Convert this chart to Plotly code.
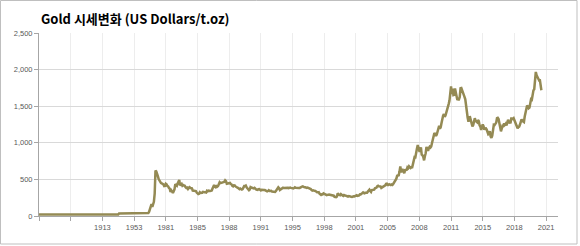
import plotly.graph_objects as go

# ---------------- data ----------------
# Annual prices 1833-1979 (USD/t.oz)
gold_annual_1833_1979 = [
    18.93, 20.67, 20.67, 20.67, 20.67, 20.67, 20.67, 20.67, 20.67, 20.67,  # 1833-1842
    20.67, 20.67, 20.67, 20.67, 20.67, 20.67, 20.67, 20.67, 20.67, 20.67,  # 1843-1852
    20.67, 20.67, 20.67, 20.67, 20.67, 20.67, 20.67, 20.67, 20.67, 20.67,  # 1853-1862
    20.67, 20.67, 20.67, 20.67, 20.67, 20.67, 20.67, 20.67, 20.67, 20.67,  # 1863-1872
    20.67, 20.67, 20.67, 20.67, 20.67, 20.67, 20.67, 20.67, 20.67, 20.67,  # 1873-1882
    20.67, 20.67, 20.67, 20.67, 20.67, 20.67, 20.67, 20.67, 20.67, 20.67,  # 1883-1892
    20.67, 20.67, 20.67, 20.67, 20.67, 20.67, 20.67, 20.67, 20.67, 20.67,  # 1893-1902
    20.67, 20.67, 20.67, 20.67, 20.67, 20.67, 20.67, 20.67, 20.67, 20.67,  # 1903-1912
    20.67, 20.67, 20.67, 20.67, 20.67, 20.67, 20.67, 20.67, 20.67, 20.67,  # 1913-1922
    20.67, 20.67, 20.67, 20.67, 20.67, 20.67, 20.67, 20.67, 20.67, 20.67,  # 1923-1932
    20.67, 34.69, 35.00, 35.00, 35.00, 35.00, 35.00, 35.00, 35.00, 35.00,  # 1933-1942
    35.00, 35.00, 35.00, 35.00, 35.00, 35.00, 35.00, 35.00, 35.00, 35.00,  # 1943-1952
    35.00, 35.00, 35.00, 35.00, 35.00, 35.00, 35.00, 35.00, 35.00, 35.00,  # 1953-1962
    35.00, 35.00, 35.00, 35.00, 35.00, 39.31, 41.28, 36.02, 40.62, 58.42,  # 1963-1972
    97.39, 154.0, 160.9, 124.7, 147.8, 193.4, 306.0,                        # 1973-1979
]

# Monthly prices Aug 1980 - Dec 1989
gold_monthly_1980s = [
    622, 610, 585, 545, 505,                                         # 1980 Aug-Dec
    480, 462, 450, 445, 440, 432, 410, 412, 440, 432, 410, 405,      # 1981
    384, 374, 330, 350, 334, 315, 339, 364, 435, 422, 414, 444,      # 1982
    481, 491, 419, 432, 438, 413, 422, 416, 412, 394, 382, 388,      # 1983
    370, 386, 394, 381, 377, 378, 348, 348, 341, 341, 341, 320,      # 1984
    303, 299, 304, 325, 316, 317, 317, 330, 323, 326, 325, 322,      # 1985
    345, 339, 346, 340, 342, 343, 348, 376, 418, 423, 398, 391,      # 1986
    408, 401, 409, 438, 461, 450, 451, 461, 460, 466, 467, 487,      # 1987
    477, 442, 443, 452, 451, 452, 437, 432, 413, 406, 420, 419,      # 1988
    404, 388, 390, 384, 371, 367, 375, 366, 362, 367, 392, 409,      # 1989
]
gold_monthly_1990s = [
    410, 417, 393, 374, 369, 352, 362, 395, 389, 381, 381, 378,      # 1990
    384, 364, 363, 358, 357, 367, 368, 357, 349, 358, 360, 361,      # 1991
    354, 354, 345, 338, 337, 341, 352, 343, 345, 344, 335, 334,      # 1992
    329, 329, 330, 342, 367, 372, 392, 379, 355, 364, 374, 383,      # 1993
    387, 382, 384, 377, 381, 386, 385, 380, 391, 389, 384, 379,      # 1994
    379, 376, 382, 391, 385, 387, 386, 383, 383, 383, 386, 387,      # 1995
    400, 405, 396, 393, 392, 385, 383, 387, 383, 381, 378, 369,      # 1996
    355, 347, 352, 344, 344, 341, 324, 324, 323, 325, 306, 289,      # 1997
    289, 297, 296, 308, 299, 292, 293, 284, 289, 296, 294, 291,      # 1998
    287, 288, 286, 282, 277, 262, 256, 257, 265, 311, 294, 283,      # 1999
]
gold_monthly_2000s = [
    284, 300, 286, 280, 275, 286, 282, 275, 274, 270, 266, 272,      # 2000
    265, 262, 263, 261, 272, 270, 268, 273, 283, 283, 276, 276,      # 2001
    282, 296, 294, 303, 314, 322, 314, 310, 319, 317, 319, 333,      # 2002
    357, 359, 340, 328, 355, 356, 351, 360, 379, 379, 389, 407,      # 2003
    414, 405, 406, 404, 384, 392, 398, 401, 405, 420, 439, 442,      # 2004
    424, 423, 434, 429, 422, 430, 424, 438, 456, 470, 476, 510,      # 2005
    549, 555, 557, 610, 676, 596, 633, 632, 598, 585, 627, 629,      # 2006
    631, 665, 654, 679, 667, 655, 665, 665, 712, 754, 806, 803,      # 2007
    889, 922, 968, 909, 888, 889, 939, 839, 830, 807, 760, 816,      # 2008
    858, 943, 924, 890, 928, 946, 934, 949, 996, 1043, 1127, 1135,   # 2009
]
gold_monthly_2010_2021 = [
    1118, 1095, 1113, 1148, 1205, 1233, 1193, 1215, 1271, 1343, 1370, 1391,  # 2010
    1356, 1372, 1424, 1474, 1510, 1529, 1573, 1756, 1772, 1665, 1739, 1652,  # 2011
    1656, 1743, 1674, 1650, 1585, 1596, 1594, 1626, 1744, 1747, 1722, 1684,  # 2012
    1671, 1627, 1593, 1487, 1414, 1343, 1286, 1347, 1349, 1316, 1275, 1225,  # 2013
    1244, 1300, 1336, 1299, 1288, 1279, 1311, 1296, 1239, 1222, 1176, 1201,  # 2014
    1251, 1227, 1179, 1198, 1199, 1181, 1131, 1117, 1125, 1159, 1086, 1068,  # 2015
    1097, 1200, 1246, 1242, 1260, 1276, 1337, 1341, 1326, 1267, 1238, 1157,  # 2016
    1192, 1234, 1231, 1266, 1246, 1260, 1236, 1283, 1315, 1280, 1282, 1265,  # 2017
    1331, 1331, 1325, 1335, 1303, 1282, 1238, 1202, 1198, 1215, 1221, 1250,  # 2018
    1292, 1320, 1300, 1285, 1284, 1359, 1413, 1500, 1510, 1495, 1471, 1480,  # 2019
    1560, 1597, 1591, 1683, 1716, 1732, 1846, 1968, 1922, 1900, 1866, 1858,  # 2020
    1867, 1808, 1718,                                                        # 2021 Jan-Mar
]

# Category labels: annual 1833-1979, monthly Aug 1980 - Dec 2022 (blank rows at the end)
annual_years = list(range(1833, 1980))
monthly_start = (1980, 8)
monthly_end = (2022, 12)

# Tick labels shown every 40 categories
tick_labels = ["", "", "1913", "1953", "1981", "1985", "1988", "1991", "1995",
               "1998", "2001", "2005", "2008", "2011", "2015", "2018", "2021"]

title_text = "<b>Gold 시세변화 (US Dollars/t.oz)</b>"

# ---------------- build ----------------
categories = [str(y) for y in annual_years]
y, m = monthly_start
while (y, m) <= monthly_end:
    categories.append(f"{y}-{m:02d}")
    m += 1
    if m > 12:
        m = 1
        y += 1

values = (gold_annual_1833_1979 + gold_monthly_1980s + gold_monthly_1990s
          + gold_monthly_2000s + gold_monthly_2010_2021)
values = values + [None] * (len(categories) - len(values))

tickvals = [categories[i * 40] for i in range(len(tick_labels))]

W, H = 580, 246
L, R, T, B = 39, 22, 33, 30
pw, ph = W - L - R, H - T - B

fig = go.Figure()
fig.add_trace(go.Scatter(
    x=categories, y=values, mode="lines",
    line=dict(color="#948A54", width=2.5),
    hoverinfo="skip", showlegend=False,
))

axis_font = dict(family="Liberation Sans, Arial, sans-serif", size=7.5, color="#595959")

fig.update_layout(
    width=W, height=H,
    margin=dict(l=L, r=R, t=T, b=B, pad=0),
    paper_bgcolor="white", plot_bgcolor="white",
    title=dict(text=title_text, x=41 / W, xanchor="left", y=1 - 19 / H, yanchor="middle",
               font=dict(family="Noto Sans CJK KR, sans-serif", size=13, color="#000000")),
    xaxis=dict(
        type="category", range=[0, len(categories) - 1],
        tickmode="array", tickvals=tickvals, ticktext=tick_labels,
        showgrid=True, gridcolor="#ededed", gridwidth=1,
        showline=True, linecolor="#a6a6a6", linewidth=1,
        ticks="outside", ticklen=4, tickcolor="#a6a6a6",
        tickfont=axis_font, tickangle=0,
        zeroline=False, fixedrange=True,
    ),
    yaxis=dict(
        range=[0, 2500], dtick=500, tickformat=",",
        showgrid=True, gridcolor="#d9d9d9", gridwidth=1,
        showline=True, linecolor="#a6a6a6", linewidth=1,
        ticks="outside", ticklen=4, tickcolor="#a6a6a6",
        tickfont=axis_font, zeroline=False, fixedrange=True,
    ),
    shapes=[dict(
        type="rect", xref="paper", yref="paper",
        x0=(0.5 - L) / pw, x1=(577 - L) / pw,
        y0=(H - B - 244) / ph, y1=(H - B - 0.5) / ph,
        line=dict(color="#bfbfbf", width=1), fillcolor="rgba(0,0,0,0)", layer="below",
    )],
)

fig.write_html("out.html", config={"displayModeBar": False})
